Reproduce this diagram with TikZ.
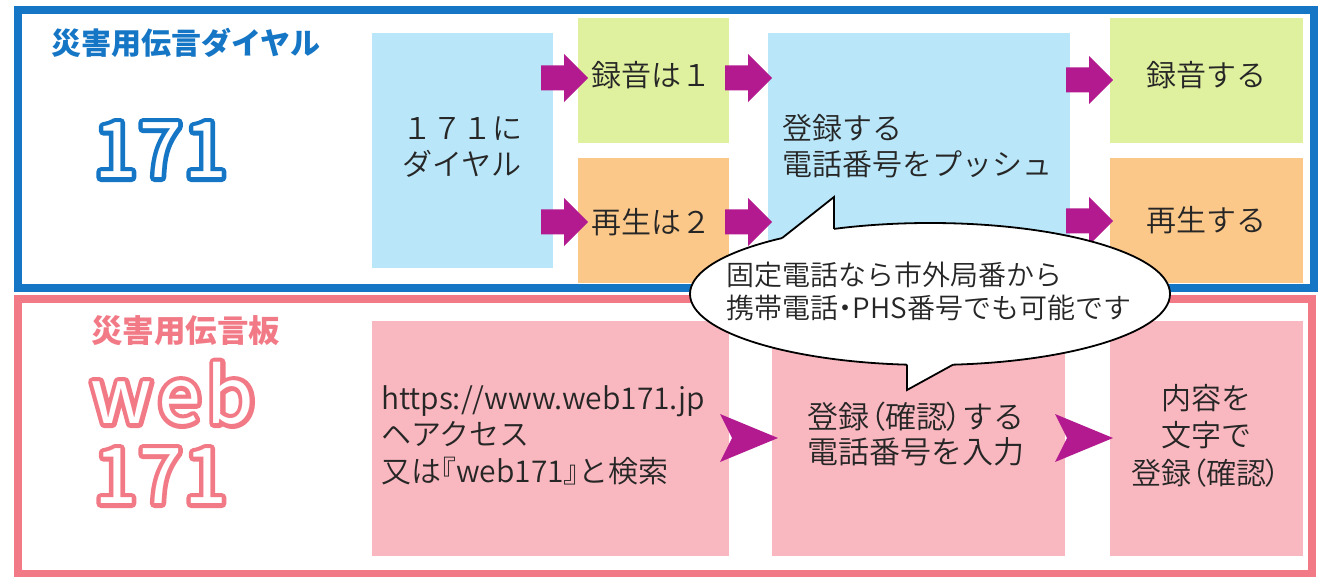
\documentclass[tikz,border=0pt]{standalone}
\usepackage{fontspec}
\IfFontExistsTF{Noto Sans CJK JP DemiLight}{%
  \setmainfont{Noto Sans CJK JP DemiLight}%
  \newfontfamily\paltfont[RawFeature=+palt]{Noto Sans CJK JP DemiLight}%
}{%
  \setmainfont{Noto Sans CJK JP}%
  \newfontfamily\paltfont[RawFeature=+palt]{Noto Sans CJK JP}%
}
\newfontfamily\titlefont{Noto Sans CJK JP}
\newfontfamily\outfont[LetterSpace=3]{Noto Sans CJK JP}
\newfontfamily\outwfont[LetterSpace=8]{Noto Sans CJK JP}
\usetikzlibrary{calc,shapes.geometric}
\definecolor{frameblue}{RGB}{21,118,197}
\definecolor{framepink}{RGB}{242,122,134}
\definecolor{lblue}{RGB}{185,230,248}
\definecolor{lgreen}{RGB}{223,240,158}
\definecolor{lorange}{RGB}{251,200,138}
\definecolor{lpink}{RGB}{249,184,192}
\definecolor{arrowmag}{RGB}{180,26,143}
\definecolor{txt}{RGB}{38,38,38}
\newcommand{\pp}[1]{{\paltfont #1}}
\newcommand{\thicktext}[1]{\special{pdf:code 2 Tr 9 w 1 j}#1\special{pdf:code 0 Tr}}
\tikzset{
  boxn/.style={inner sep=0, outer sep=0, draw=none, rectangle},
  lbl/.style={inner sep=0, outer sep=0, text=txt, font=\fontsize{30}{36.5}\selectfont},
  outl/.style={inner sep=0, outer sep=0, anchor=base, font=\outfont\fontsize{77}{77}\selectfont},
  outw/.style={inner sep=0, outer sep=0, anchor=base, font=\outwfont\fontsize{77}{77}\selectfont},
  ttl/.style={inner sep=0, outer sep=0, anchor=base west, font=\titlefont\bfseries\fontsize{30}{30}\selectfont},
  frm/.style={line width=8pt},
  barrow/.pic={\fill[arrowmag] (0,-12.5) -- (23,-12.5) -- (23,-24) -- (47,0) -- (23,24) -- (23,12.5) -- (0,12.5) -- cycle;},
  sarrow/.pic={\fill[arrowmag] (0,-24) -- (58,0) -- (0,24) -- (12,0) -- cycle;}
}
\begin{document}
\begin{tikzpicture}[x=1pt,y=-1pt]
\useasboundingbox (0,0) rectangle (1324,577);
\fill[white] (0,0) rectangle (1324,577);
% frames
\draw[frm, frameblue] (17.5,10) rectangle (1314,288);
\draw[frm, framepink] (17.5,299) rectangle (1311.5,573.5);
% titles
\node[ttl, text=frameblue] (t1) at (51,55) {災害用伝言ダイヤル};
\node[ttl, text=framepink, font=\titlefont\bfseries\fontsize{31.5}{31.5}\selectfont] (t2) at (91,342.5) {災害用伝言板};
% outlined big texts
\node[outl, text=frameblue] (n171aout) at (160.5,177.5) {\thicktext{171}};
\node[outl, text=white] (n171a) at (160.5,177.5) {171};
\node[outw, text=framepink] (nwebout) at (172.5,423.5) {\thicktext{web}};
\node[outw, text=white] (nweb) at (172.5,423.5) {web};
\node[outl, text=framepink] (n171bout) at (160.5,503.5) {\thicktext{171}};
\node[outl, text=white] (n171b) at (160.5,503.5) {171};
% boxes top
\node[boxn, fill=lblue, minimum width=181pt, minimum height=235pt] (A) at (462.5,150.5) {};
\node[boxn, fill=lgreen, minimum width=151pt, minimum height=125pt] (B) at (653.5,80.5) {};
\node[boxn, fill=lorange, minimum width=151pt, minimum height=125pt] (C) at (653.5,220.5) {};
\node[boxn, fill=lblue, minimum width=302pt, minimum height=235pt] (D) at (919,150.5) {};
\node[boxn, fill=lgreen, minimum width=193pt, minimum height=125pt] (E) at (1206.5,80.5) {};
\node[boxn, fill=lorange, minimum width=193pt, minimum height=125pt] (F) at (1206.5,220.5) {};
% boxes bottom
\node[boxn, fill=lpink, minimum width=357pt, minimum height=235pt] (G) at (550.5,438.5) {};
\node[boxn, fill=lpink, minimum width=293pt, minimum height=235pt] (H) at (918.5,438.5) {};
\node[boxn, fill=lpink, minimum width=193pt, minimum height=235pt] (I) at (1206.5,438.5) {};
% labels
\node[lbl, align=center] (lA) at (462,147) {１７１に\\ダイヤル};
\node[lbl] (lB) at (651,75) {録音は１};
\node[lbl] (lC) at (651,222) {再生は２};
\node[lbl, align=left] (lD) at (917,146) {登録する\\電話番号をプッシュ};
\node[lbl] (lE) at (1206,75) {録音する};
\node[lbl] (lF) at (1206,220) {再生する};
\node[lbl, align=left, anchor=west] (lG) at (381,435) {https://www.web171.jp\\ヘアクセス\\又は\pp{『}web171\pp{』}と検索};
\node[lbl, align=center, font=\fontsize{31}{35}\selectfont] (lH) at (916,434.5) {登録\pp{（}確認\pp{）}する\\電話番号を入力};
\node[lbl, align=center, font=\fontsize{30}{37.5}\selectfont] (lI) at (1206,435.5) {内容を\\文字で\\登録\pp{（}確認\pp{）}};
% arrows top
\pic at (541,78) {barrow};
\pic at (541,222) {barrow};
\pic at (725,78) {barrow};
\pic at (725,222) {barrow};
\pic at (1066,80) {barrow};
\pic at (1066,221) {barrow};
% arrows bottom
\pic at (720,438) {sarrow};
\pic at (1055,438) {sarrow};
% callout
\node[ellipse, draw=black, fill=white, line width=1.8pt, inner sep=0, outer sep=0, minimum width=480pt, minimum height=142pt] (bubble) at (930,294) {};
\fill[white] (782,238.1) -- (834,197) -- (834,228.9) -- (834,234) -- (782,243) -- cycle;
\draw[line width=1.8pt, line join=miter] (782,238.1) -- (834,197) -- (834,228.9);
\fill[white] (907,364.7) -- (907,390) -- (953,364.7) -- (953,359) -- (907,359) -- cycle;
\draw[line width=1.8pt, line join=miter] (907,364.7) -- (907,390) -- (953,364.7);
\node[lbl, align=left, font=\fontsize{28}{33}\selectfont] (lbub) at (929,291.5) {固定電話なら市外局番から\\携帯電話\pp{・}PHS番号でも可能です};
\end{tikzpicture}
\end{document}
